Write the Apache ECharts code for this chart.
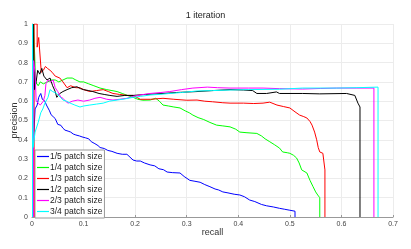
<!DOCTYPE html>
<html><head><meta charset="utf-8">
<script src="https://cdn.jsdelivr.net/npm/echarts@6/dist/echarts.min.js"></script>
<style>html,body{margin:0;padding:0;background:#fff}#c{width:411px;height:249px}</style>
</head><body><div id="c"></div>
<script>
var seriesNames = ['1/5 patch size','1/4 patch size','1/3 patch size','1/2 patch size','2/3 patch size','3/4 patch size'];
var seriesColors = ['#0000ff','#00ff00','#ff0000','#000000','#ff00ff','#00ffff'];
var xTicks = [0,0.1,0.2,0.3,0.4,0.5,0.6,0.7];
var yTicks = [0,0.1,0.2,0.3,0.4,0.5,0.6,0.7,0.8,0.9,1];

var pr15 = [[0.001,0],[0.001,0.82],[0.002,0.37],[0.004,0.45],[0.006,0.56],[0.010,0.58],[0.013,0.62],[0.017,0.64],[0.020,0.61],[0.025,0.60],[0.028,0.58],[0.031,0.565],[0.034,0.55],[0.037,0.53],[0.041,0.52],[0.045,0.51],[0.050,0.48],[0.056,0.475],[0.060,0.46],[0.064,0.45],[0.070,0.445],[0.075,0.44],[0.080,0.43],[0.085,0.425],[0.087,0.435],[0.092,0.42],[0.097,0.415],[0.104,0.41],[0.110,0.405],[0.115,0.39],[0.122,0.38],[0.128,0.37],[0.132,0.36],[0.140,0.355],[0.147,0.345],[0.155,0.34],[0.165,0.33],[0.175,0.325],[0.184,0.325],[0.190,0.31],[0.196,0.295],[0.203,0.29],[0.210,0.29],[0.218,0.28],[0.229,0.27],[0.238,0.265],[0.246,0.25],[0.255,0.245],[0.262,0.233],[0.272,0.23],[0.287,0.228],[0.295,0.21],[0.306,0.19],[0.316,0.185],[0.326,0.18],[0.335,0.168],[0.345,0.157],[0.355,0.145],[0.362,0.14],[0.370,0.13],[0.380,0.125],[0.392,0.118],[0.403,0.114],[0.412,0.105],[0.422,0.088],[0.432,0.08],[0.445,0.065],[0.455,0.058],[0.468,0.052],[0.48,0.045],[0.49,0.04],[0.50,0.035],[0.51,0.03],[0.51,0]];
var pr14 = [[0.003,0],[0.003,1],[0.006,1],[0.007,0.7],[0.012,0.68],[0.016,0.7],[0.022,0.69],[0.03,0.7],[0.038,0.71],[0.045,0.71],[0.052,0.70],[0.06,0.71],[0.068,0.72],[0.078,0.72],[0.085,0.71],[0.093,0.70],[0.1,0.70],[0.11,0.69],[0.12,0.68],[0.132,0.668],[0.145,0.66],[0.155,0.655],[0.165,0.65],[0.175,0.64],[0.185,0.63],[0.196,0.62],[0.205,0.61],[0.215,0.605],[0.229,0.606],[0.24,0.615],[0.247,0.6],[0.254,0.58],[0.265,0.575],[0.275,0.57],[0.287,0.565],[0.297,0.55],[0.305,0.54],[0.312,0.528],[0.322,0.515],[0.333,0.505],[0.345,0.49],[0.358,0.476],[0.37,0.472],[0.384,0.467],[0.395,0.455],[0.403,0.44],[0.415,0.437],[0.436,0.433],[0.445,0.42],[0.452,0.405],[0.461,0.39],[0.47,0.375],[0.48,0.357],[0.486,0.337],[0.495,0.333],[0.5,0.33],[0.507,0.32],[0.513,0.306],[0.518,0.28],[0.523,0.244],[0.533,0.228],[0.539,0.19],[0.545,0.157],[0.55,0.13],[0.554,0.114],[0.558,0.10],[0.558,0]];
var pr13 = [[0.004,0],[0.004,1],[0.01,1],[0.01,0.88],[0.013,0.93],[0.016,0.92],[0.018,0.75],[0.022,0.76],[0.026,0.78],[0.03,0.77],[0.035,0.76],[0.039,0.75],[0.045,0.73],[0.054,0.72],[0.06,0.70],[0.068,0.67],[0.075,0.68],[0.085,0.67],[0.093,0.67],[0.1,0.66],[0.112,0.65],[0.125,0.655],[0.138,0.66],[0.148,0.65],[0.157,0.64],[0.17,0.635],[0.185,0.63],[0.196,0.63],[0.21,0.61],[0.23,0.61],[0.254,0.615],[0.275,0.61],[0.3,0.605],[0.32,0.606],[0.335,0.6],[0.35,0.597],[0.37,0.592],[0.384,0.59],[0.41,0.59],[0.43,0.588],[0.448,0.59],[0.461,0.595],[0.475,0.58],[0.488,0.572],[0.5,0.565],[0.51,0.545],[0.519,0.528],[0.527,0.52],[0.533,0.513],[0.539,0.495],[0.543,0.476],[0.548,0.44],[0.552,0.4],[0.555,0.36],[0.558,0.337],[0.564,0.33],[0.568,0.244],[0.568,0]];
var pr12 = [[0.002,0],[0.002,1],[0.005,1],[0.005,0.66],[0.008,0.7],[0.011,0.76],[0.015,0.74],[0.019,0.77],[0.023,0.73],[0.029,0.71],[0.035,0.72],[0.04,0.68],[0.045,0.65],[0.048,0.62],[0.054,0.64],[0.06,0.65],[0.068,0.66],[0.077,0.67],[0.087,0.675],[0.094,0.665],[0.1,0.66],[0.11,0.655],[0.118,0.65],[0.13,0.64],[0.14,0.635],[0.151,0.63],[0.165,0.625],[0.18,0.63],[0.196,0.63],[0.22,0.635],[0.254,0.64],[0.28,0.645],[0.32,0.65],[0.35,0.655],[0.384,0.66],[0.41,0.658],[0.428,0.655],[0.436,0.64],[0.455,0.64],[0.474,0.648],[0.48,0.64],[0.525,0.64],[0.558,0.638],[0.61,0.64],[0.626,0.63],[0.632,0.59],[0.636,0.57],[0.636,0]];
var pr23 = [[0.003,0],[0.003,0.81],[0.006,0.75],[0.008,0.6],[0.012,0.59],[0.016,0.58],[0.019,0.57],[0.022,0.6],[0.025,0.63],[0.027,0.69],[0.031,0.71],[0.036,0.7],[0.041,0.71],[0.045,0.67],[0.05,0.65],[0.056,0.62],[0.06,0.615],[0.065,0.6],[0.07,0.59],[0.078,0.6],[0.089,0.606],[0.1,0.6],[0.112,0.606],[0.122,0.615],[0.132,0.62],[0.145,0.61],[0.157,0.606],[0.17,0.61],[0.184,0.615],[0.196,0.625],[0.209,0.632],[0.229,0.64],[0.25,0.645],[0.267,0.65],[0.29,0.66],[0.312,0.668],[0.34,0.673],[0.36,0.67],[0.384,0.668],[0.42,0.668],[0.448,0.668],[0.48,0.665],[0.525,0.663],[0.56,0.666],[0.59,0.668],[0.63,0.668],[0.663,0.668],[0.663,0]];
var pr34 = [[0.001,0],[0.001,1],[0.002,1],[0.002,0.36],[0.006,0.44],[0.012,0.49],[0.017,0.54],[0.021,0.56],[0.025,0.59],[0.031,0.62],[0.035,0.66],[0.04,0.65],[0.048,0.64],[0.055,0.62],[0.06,0.606],[0.067,0.6],[0.074,0.59],[0.083,0.58],[0.093,0.57],[0.1,0.575],[0.112,0.58],[0.125,0.585],[0.138,0.59],[0.15,0.6],[0.165,0.606],[0.18,0.612],[0.196,0.62],[0.21,0.625],[0.229,0.632],[0.25,0.636],[0.267,0.64],[0.29,0.645],[0.32,0.653],[0.35,0.655],[0.384,0.658],[0.42,0.66],[0.48,0.662],[0.525,0.668],[0.59,0.668],[0.63,0.67],[0.671,0.673],[0.671,0]];
var seriesData = [pr15, pr14, pr13, pr12, pr23, pr34];

var FONT = 'Liberation Sans, Arial, sans-serif';
var chart = echarts.init(document.getElementById('c'), null, {renderer:'canvas'});
var option = {
  animation: false,
  backgroundColor: '#fff',
  title: {text: '1 iteration', left: 'center', top: 11, padding: 0,
    textStyle: {fontSize: 9, fontWeight: 'normal', color: '#222', fontFamily: FONT}},
  grid: {left: 32, right: 18, top: 24, bottom: 32, containLabel: false, outerBoundsMode: 'none'},
  legend: {
    orient: 'vertical', left: 35, top: 150, padding: [2, 2, 2, 2],
    backgroundColor: '#fff', borderColor: '#999', borderWidth: 1, borderRadius: 0,
    itemWidth: 12, itemHeight: 8, itemGap: 2,
    textStyle: {fontSize: 8.5, color: '#222', fontFamily: FONT, lineHeight: 8, padding: [0,0,0,-4]},
    data: seriesNames.map(function(n){return {name: n, icon: 'path://M0,0L12,0L12,1.2L0,1.2Z'};})
  },
  xAxis: {
    type: 'value', min: 0, max: 0.7, interval: 0.1,
    name: 'recall', nameLocation: 'middle', nameGap: 11, nameMoveOverlap: false,
    nameTextStyle: {fontSize: 9, color: '#333', fontFamily: FONT, verticalAlign: 'top'},
    axisLine: {show: true, lineStyle: {color: '#999', width: 1}},
    axisTick: {show: true, inside: true, length: 2, lineStyle: {color: '#999'}},
    axisLabel: {fontSize: 7, color: '#444', margin: 4, fontFamily: FONT,
      formatter: function(v){ return xTicks.indexOf(Math.round(v*10)/10) >= 0 ? String(Math.round(v*10)/10) : ''; }},
    splitLine: {show: true, lineStyle: {color: '#ececec', width: 1}}
  },
  yAxis: {
    type: 'value', min: 0, max: 1, interval: 0.1,
    name: 'precision', nameLocation: 'middle', nameGap: 13, nameMoveOverlap: false,
    nameTextStyle: {fontSize: 9, color: '#333', fontFamily: FONT},
    axisLine: {show: true, lineStyle: {color: '#999', width: 1}},
    axisTick: {show: true, inside: true, length: 2, lineStyle: {color: '#999'}},
    axisLabel: {fontSize: 7, color: '#444', margin: 4, fontFamily: FONT,
      formatter: function(v){ return yTicks.indexOf(Math.round(v*10)/10) >= 0 ? String(Math.round(v*10)/10) : ''; }},
    splitLine: {show: true, lineStyle: {color: '#ececec', width: 1}}
  },
  series: seriesNames.map(function(n, i){
    return {name: n, type: 'line', data: seriesData[i], symbol: 'none', showSymbol: false,
      lineStyle: {color: seriesColors[i], width: 1}, itemStyle: {color: seriesColors[i]},
      z: 2 + i, clip: true};
  })
};
chart.setOption(option);
</script></body></html>
